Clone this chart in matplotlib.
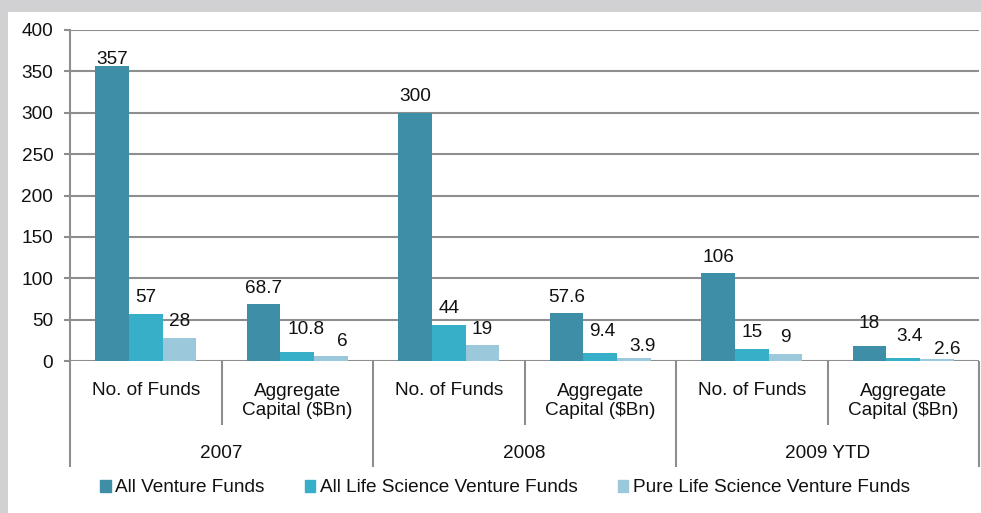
import numpy as np
import matplotlib.pyplot as plt
import matplotlib.transforms as mtransforms
from matplotlib.patches import Patch, Rectangle

plt.rcParams['font.family'] = ['Liberation Sans', 'DejaVu Sans']

# data
years = ['2007', '2008', '2009 YTD']
measures = ['No. of Funds', 'Aggregate\nCapital ($Bn)']
series = ['All Venture Funds', 'All Life Science Venture Funds',
          'Pure Life Science Venture Funds']
all_venture = [357, 68.7, 300, 57.6, 106, 18]
all_life_sci = [57, 10.8, 44, 9.4, 15, 3.4]
pure_life_sci = [28, 6, 19, 3.9, 9, 2.6]

colors = ['#3e8ea8', '#37afc9', '#9bc8da']
grid_col = '#8e8e8e'
text_col = '#111111'
fs = 13.7

# label nudges in pixels (series, category) -> (dx, dy above bar top)
nudge = {(0, 0): (0, 6), (1, 1): (9, 23), (2, 1): (11, 15),
         (1, 3): (2, 22), (2, 3): (9, 11), (0, 5): (0, 23),
         (1, 5): (6, 22), (2, 5): (10, 9)}

fig = plt.figure(figsize=(9.81, 5.13), dpi=100, facecolor='#d1d1d3')
fig.patches.append(Rectangle((8 / 981, 0), 1, (513 - 12) / 513,
                             transform=fig.transFigure, facecolor='white',
                             edgecolor='none', zorder=-1))
ax = fig.add_axes([70 / 981, 152 / 513, 909 / 981, 331 / 513])

n_cat = len(all_venture)
x = np.arange(n_cat)
w = 1 / 4.5
vals = [all_venture, all_life_sci, pure_life_sci]
for i, v in enumerate(vals):
    pos = x + (i - 1) * w
    ax.bar(pos, v, width=w, color=colors[i], label=series[i], zorder=3)
    for j, val in enumerate(v):
        dx, dy = nudge.get((i, j), (0, 16))
        ax.annotate(f'{val:g}', (pos[j], val), xytext=(dx, dy),
                    textcoords='offset pixels', ha='center', va='center',
                    fontsize=fs, color=text_col, zorder=4)

ax.set_xlim(-0.5, n_cat - 0.5)
ax.set_ylim(0, 400)
ax.set_yticks(range(0, 401, 50))
ax.yaxis.grid(True, color=grid_col, lw=1.5)
ax.set_axisbelow(True)
ax.set_xticks([])
ax.tick_params(axis='y', length=4, width=1.5, color=grid_col, pad=8,
               labelsize=fs, labelcolor=text_col)
for s in ['top', 'right', 'bottom']:
    ax.spines[s].set_visible(False)
ax.spines['left'].set_color(grid_col)
ax.spines['left'].set_linewidth(1.5)

# two-level category axis
trans = mtransforms.blended_transform_factory(ax.transData, ax.transAxes)
for j in range(n_cat):
    m = measures[j % 2]
    ax.text(j, -0.088 if '\n' not in m else -0.121, m, transform=trans,
            ha='center', va='center', fontsize=fs, color=text_col,
            linespacing=1.2)
for k, yr in enumerate(years):
    ax.text(2 * k + 0.5, -0.278, yr, transform=trans, ha='center',
            va='center', fontsize=fs, color=text_col)
for b in np.arange(-0.5, n_cat, 1.0):
    outer = (b + 0.5) % 2 == 0
    ax.plot([b, b], [0, -0.32 if outer else -0.193], transform=trans,
            color=grid_col, lw=1.5, clip_on=False, solid_capstyle='butt')

handles = [Patch(color=c) for c in colors]
fig.legend(handles, series, loc='center', bbox_to_anchor=(505 / 981, 1 - 488 / 513),
           ncol=3, frameon=False, fontsize=fs, handlelength=0.55,
           handleheight=0.6, handletextpad=0.25, columnspacing=2.1,
           labelcolor=text_col)

fig.savefig('out.png', dpi=100, facecolor=fig.get_facecolor())
